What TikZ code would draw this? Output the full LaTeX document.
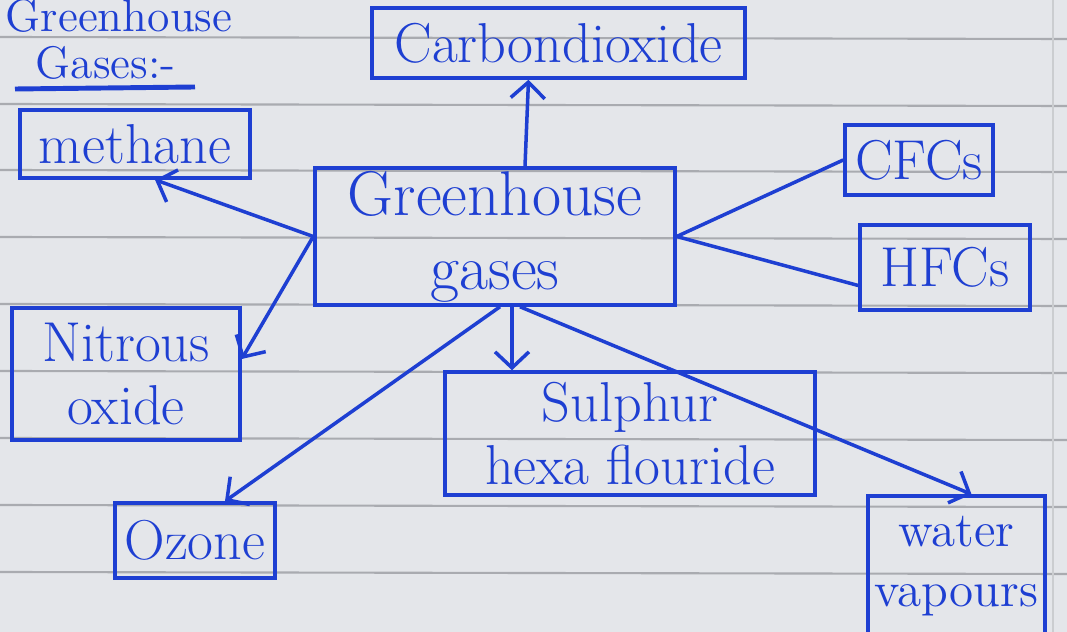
\documentclass[tikz,border=0pt]{standalone}
\usepackage{tikz}
\usepackage{xcolor}
\usetikzlibrary{arrows.meta}

\definecolor{ink}{HTML}{1E3FD2}
\definecolor{paper}{HTML}{E4E6EA}
\definecolor{rule}{HTML}{A9ABB0}

\begin{document}
\begin{tikzpicture}[
    box/.style={draw=ink, line width=1pt, text=ink, inner sep=0pt, align=center,
      font=\fontsize{16}{18}\selectfont},
    arr/.style={draw=ink, line width=1pt, -{Straight Barb[length=1.6mm,width=3.4mm]}},
    lnk/.style={draw=ink, line width=1pt}]
    \useasboundingbox (0,0) rectangle (10.67,6.32);
    % ruled paper
    \fill[paper] (0,0) rectangle (10.67,6.32);
    \foreach \y in {5.95,5.28,4.62,3.95,3.28,2.61,1.94,1.27,0.60}
      \draw[rule, line width=0.6pt] (0,\y) -- (10.67,\y-0.02);
    \draw[rule!60, line width=0.5pt] (10.53,0) -- (10.53,6.32);

    % heading
    \node[text=ink, font=\fontsize{13}{15}\selectfont, anchor=base west, inner sep=0pt] (head1) at (0.05,6.00) {Greenhouse};
    \node[text=ink, font=\fontsize{13}{15}\selectfont, anchor=base west, inner sep=0pt] (head2) at (0.35,5.53) {Gases:-};
    \draw[ink, line width=1.4pt] (0.15,5.43) -- (1.95,5.45);

    % boxes
    \node[box, minimum width=3.73cm, minimum height=0.70cm] (carbon) at (5.585,5.89) {Carbondioxide};
    \node[box, minimum width=2.30cm, minimum height=0.68cm] (methane) at (1.35,4.88) {methane};
    \node[box, minimum width=3.60cm, minimum height=1.37cm, font=\fontsize{18}{21}\selectfont] (ghg) at (4.95,3.955) {Greenhouse\\gases};
    \node[box, minimum width=1.48cm, minimum height=0.70cm] (cfc) at (9.19,4.72) {CFCs};
    \node[box, minimum width=1.70cm, minimum height=0.85cm] (hfc) at (9.45,3.645) {HFCs};
    \node[box, minimum width=2.28cm, minimum height=1.32cm] (nitrous) at (1.26,2.58) {Nitrous\\oxide};
    \node[box, minimum width=3.70cm, minimum height=1.23cm] (sulphur) at (6.30,1.985) {Sulphur\\hexa flouride};
    \node[box, minimum width=1.60cm, minimum height=0.75cm] (ozone) at (1.95,0.915) {Ozone};
    \node[box, minimum width=1.77cm, minimum height=1.40cm, font=\fontsize{14}{17}\selectfont] (water) at (9.565,0.66) {water\\vapours};

    % connectors
    \draw[arr] ([xshift=3mm]ghg.north) -- ([xshift=-3mm]carbon.south);
    \draw[arr] (ghg.west) -- ([xshift=2mm]methane.south);
    \draw[arr] (ghg.west) -- ([yshift=1.5mm]nitrous.east);
    \draw[lnk] (ghg.east) -- (cfc.west);
    \draw[lnk] (ghg.east) -- ([yshift=-1.8mm]hfc.west);
    \draw[arr] ([xshift=1.7mm]ghg.south) -- ([xshift=1.7mm]ghg.south |- sulphur.north);
    \draw[arr] ([xshift=0.5mm]ghg.south) -- ([xshift=3mm]ozone.north);
    \draw[arr] ([xshift=2.5mm]ghg.south) -- ([xshift=1.5mm]water.north);
\end{tikzpicture}
\end{document}
